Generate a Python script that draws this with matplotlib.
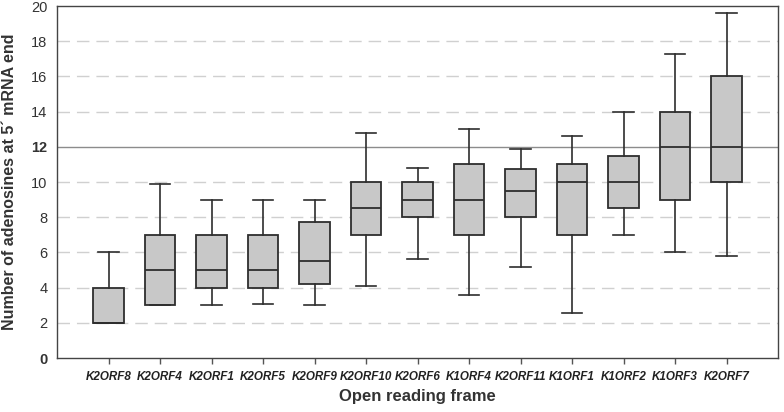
import matplotlib
matplotlib.use("Agg")
import matplotlib.pyplot as plt

plt.rcParams['font.family'] = ['Liberation Sans', 'DejaVu Sans']

categories = ["K2ORF8", "K2ORF4", "K2ORF1", "K2ORF5", "K2ORF9", "K2ORF10", "K2ORF6",
              "K1ORF4", "K2ORF11", "K1ORF1", "K1ORF2", "K1ORF3", "K2ORF7"]
whislo = [2.0, 3.0, 3.0, 3.07, 3.0, 4.07, 5.6, 3.6, 5.17, 2.57, 7.0, 6.0, 5.78]
q1     = [2.0, 3.0, 4.0, 4.0, 4.22, 7.0, 8.0, 7.0, 8.0, 7.0, 8.5, 9.0, 10.0]
med    = [2.0, 5.0, 5.0, 5.0, 5.5, 8.5, 9.0, 9.0, 9.5, 10.0, 10.0, 12.0, 12.0]
q3     = [4.0, 7.0, 7.0, 7.0, 7.75, 10.0, 10.0, 11.0, 10.75, 11.0, 11.5, 14.0, 16.0]
whishi = [6.0, 9.9, 9.0, 9.0, 9.0, 12.8, 10.8, 13.0, 11.9, 12.6, 14.0, 17.3, 19.6]
yticks = [0, 2, 4, 6, 8, 10, 12, 14, 16, 18, 20]
bold_yticks = [0, 12]
ref_line = 12

fig = plt.figure(figsize=(7.84, 4.12), dpi=100)
ax = fig.add_axes([57/784, 54/412, 721/784, 352/412])

stats = []
for i, c in enumerate(categories):
    stats.append(dict(label=c, whislo=whislo[i], q1=q1[i], med=med[i],
                      q3=q3[i], whishi=whishi[i], fliers=[]))

edge = '#2e2e2e'
ax.bxp(stats, positions=range(1, len(categories) + 1), widths=0.6,
       patch_artist=True, showfliers=False, zorder=3,
       boxprops=dict(facecolor='#c8c8c8', edgecolor=edge, linewidth=1.3),
       medianprops=dict(color=edge, linewidth=1.3),
       whiskerprops=dict(color=edge, linewidth=1.2),
       capprops=dict(color=edge, linewidth=1.2),
       capwidths=0.4)

for y in yticks[1:-1]:
    if y == ref_line:
        ax.axhline(y, color='#8c8c8c', lw=1.0, zorder=1)
    else:
        ax.axhline(y, color='#d0d0d0', lw=1.0, ls=(0, (9, 5)), zorder=1)

ax.set_xlim(0, 14)
ax.set_ylim(0, 20)
ax.set_yticks(yticks)
ax.set_yticklabels([str(v) for v in yticks], fontsize=10.5, color='#333333')
for lbl in ax.get_yticklabels():
    if int(lbl.get_text()) in bold_yticks:
        lbl.set_fontweight('bold')
ax.set_yticks(bold_yticks, minor=True)
ax.tick_params(axis='y', which='minor', length=3, width=1, color='#777777')
ax.tick_params(axis='y', which='major', length=0, pad=7)
ax.set_xticks(range(1, len(categories) + 1))
ax.set_xticklabels(categories, fontsize=8.4, fontweight='bold', fontstyle='italic',
                   color='#222222')
ax.tick_params(axis='x', length=4, width=1, color='#555555', pad=5)
for s in ax.spines.values():
    s.set_color('#444444')
    s.set_linewidth(1.0)

ax.set_ylabel("Number of adenosines at 5´ mRNA end", fontsize=11.5,
              fontweight='bold', color='#333333', labelpad=10)
ax.set_xlabel("Open reading frame", fontsize=12, fontweight='bold',
              color='#333333', labelpad=5)

fig.savefig("out.png", dpi=100)
